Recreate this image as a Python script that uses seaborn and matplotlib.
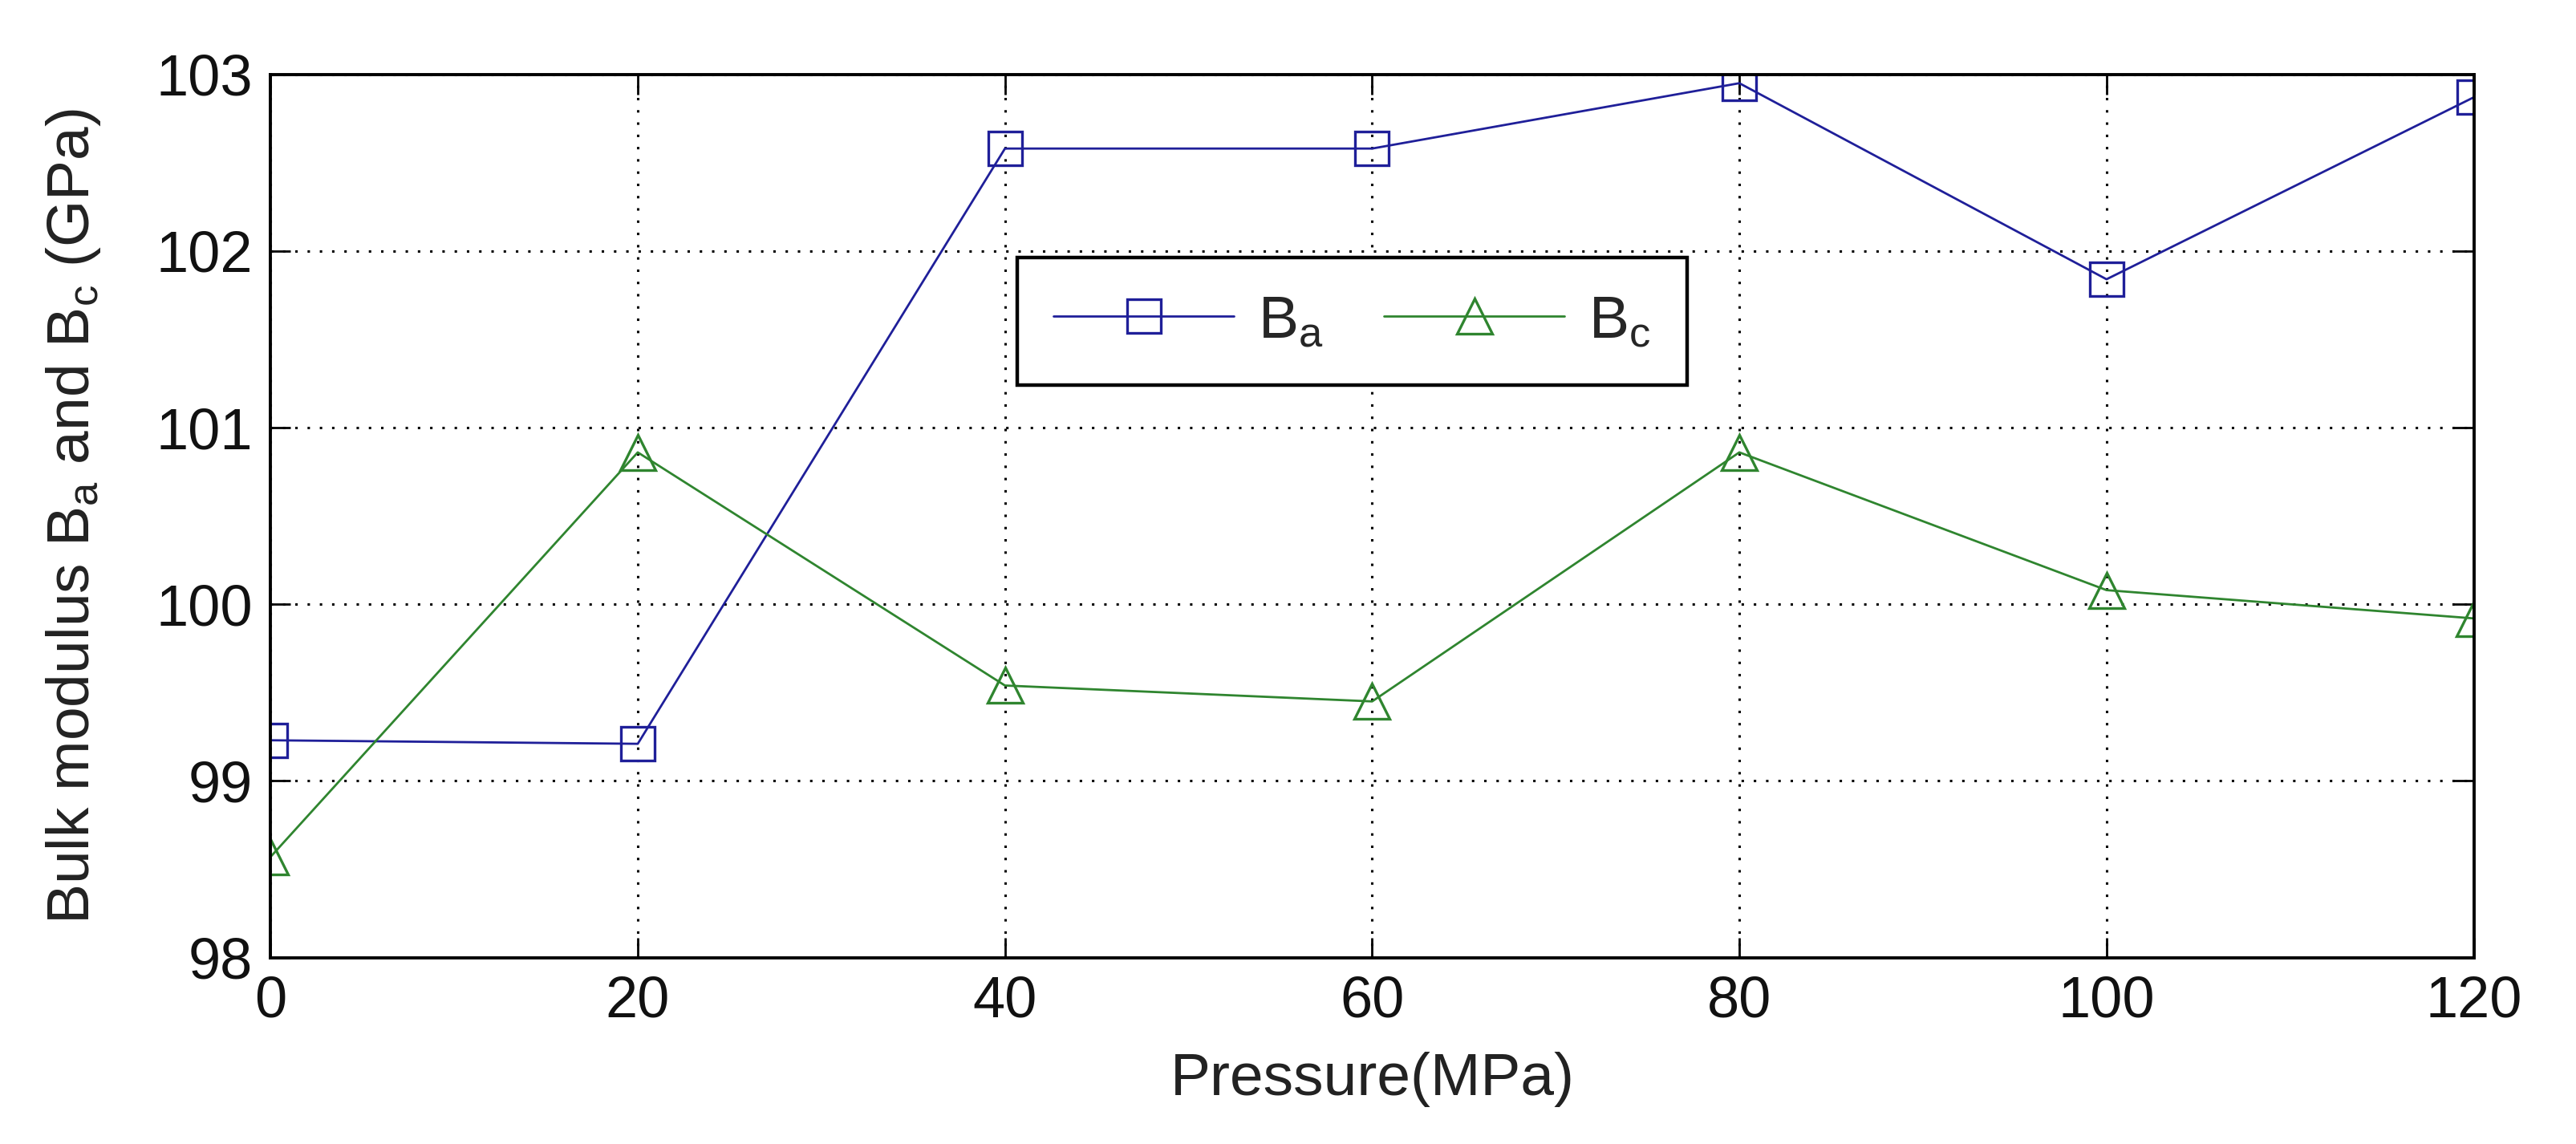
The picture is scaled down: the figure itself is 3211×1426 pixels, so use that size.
import numpy as np
import pandas as pd
import matplotlib
matplotlib.use("Agg")
import matplotlib.pyplot as plt
import seaborn as sns

pressure = [0, 20, 40, 60, 80, 100, 120]
b_a = [99.23, 99.21, 102.58, 102.58, 102.95, 101.84, 102.87]
b_c = [98.57, 100.86, 99.54, 99.45, 100.86, 100.08, 99.92]
x_ticks = [0, 20, 40, 60, 80, 100, 120]
y_ticks = [98, 99, 100, 101, 102, 103]

sns.set_theme(style="white")
plt.rcParams['font.family'] = ['Liberation Sans', 'DejaVu Sans']
plt.rcParams['mathtext.fontset'] = 'custom'
plt.rcParams['mathtext.rm'] = 'Liberation Sans'
plt.rcParams['mathtext.it'] = 'Liberation Sans:italic'
plt.rcParams['mathtext.default'] = 'regular'

fig = plt.figure(figsize=(16.06, 7.13), dpi=200)
ax = fig.add_axes([0.105, 0.163, 0.855, 0.772])

df = pd.DataFrame({"Pressure": pressure, "Ba": b_a, "Bc": b_c})

blue = "#1f1f99"
green = "#2f852f"
sns.lineplot(data=df, x="Pressure", y="Ba", ax=ax, color=blue, lw=1.0,
             marker="s", markersize=15, markerfacecolor="none",
             markeredgecolor=blue, markeredgewidth=1.2, label="B$_a$")
sns.lineplot(data=df, x="Pressure", y="Bc", ax=ax, color=green, lw=1.0,
             marker="^", markersize=16, markerfacecolor="none",
             markeredgecolor=green, markeredgewidth=1.2, label="B$_c$")

ax.set_xlim(0, 120)
ax.set_ylim(98, 103)
ax.set_xticks(x_ticks)
ax.set_yticks(y_ticks)
ax.tick_params(axis='both', direction='in', length=9, width=1.0,
               top=True, right=True, bottom=True, left=True,
               labelsize=26, colors='black', pad=8)
for lbl in ax.get_xticklabels() + ax.get_yticklabels():
    lbl.set_color('#111111')
ax.grid(True, linestyle=(0, (1, 4)), color='black', linewidth=1.1)
for s in ax.spines.values():
    s.set_visible(True)
    s.set_color('black')
    s.set_linewidth(1.4)

ax.set_xlabel("Pressure(MPa)", fontsize=27, color='#222222', labelpad=10)
ax.set_ylabel("Bulk modulus B$_a$ and B$_c$ (GPa)", fontsize=27,
              color='#222222', labelpad=24)

leg = ax.legend(loc='center', bbox_to_anchor=(0.491, 0.72), ncol=2,
                fontsize=27, frameon=True, fancybox=False, handlelength=3.0,
                columnspacing=1.0, borderpad=0.6, handletextpad=0.4)
leg.get_frame().set_edgecolor('black')
leg.get_frame().set_linewidth(1.6)
leg.get_frame().set_alpha(1)

fig.savefig("out.png", dpi=200, facecolor='white')
